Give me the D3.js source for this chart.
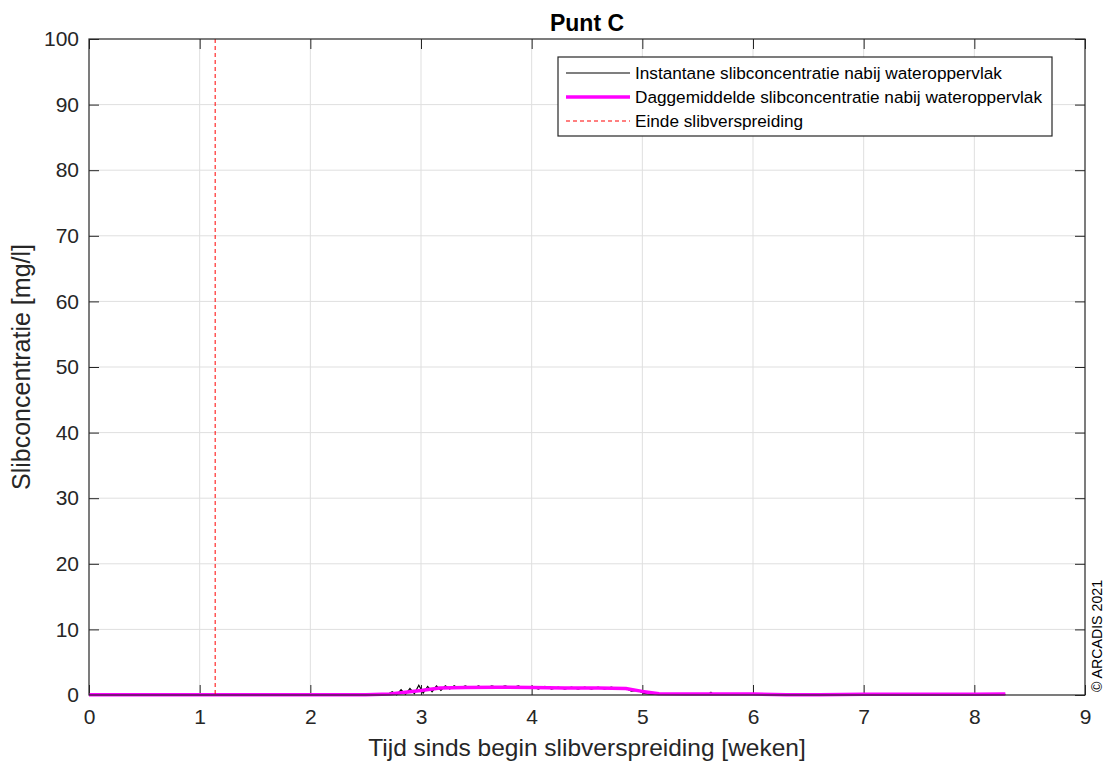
<!DOCTYPE html>
<html>
<head>
<meta charset="utf-8">
<script src="https://cdn.jsdelivr.net/npm/d3@7"></script>
<style>
  body { margin: 0; background: #fff; }
  svg { display: block; }
</style>
</head>
<body>
<svg id="chart" width="1104" height="765"></svg>
<script>
// data
const xTicks = [0, 1, 2, 3, 4, 5, 6, 7, 8, 9];
const yTicks = [0, 10, 20, 30, 40, 50, 60, 70, 80, 90, 100];

const instWeeks = [0, 2.6, 2.70, 2.74, 2.78, 2.82, 2.86, 2.90, 2.94, 2.98, 3.02, 3.06, 3.10, 3.14, 3.18, 3.22, 3.26,
  3.30, 3.34, 3.40, 3.46, 3.52, 3.58, 3.64, 3.70, 3.76, 3.82, 3.88, 3.94, 4.00, 4.06, 4.12, 4.18, 4.24, 4.30,
  4.36, 4.42, 4.48, 4.54, 4.60, 4.66, 4.72, 4.78, 4.84, 4.90, 4.96, 5.02, 5.10, 5.60, 5.62, 5.64, 6.0, 8.28];
const instValues = [0.05, 0.05, 0.1, 0.5, 0.0, 0.8, 0.1, 1.0, 0.2, 1.5, 0.3, 1.3, 0.5, 1.4, 0.7, 1.4, 0.9,
  1.4, 1.0, 1.4, 1.0, 1.4, 1.0, 1.4, 1.1, 1.4, 1.1, 1.4, 1.0, 1.3, 0.9, 1.3, 0.9, 1.2, 0.9,
  1.2, 0.9, 1.2, 0.9, 1.2, 0.9, 1.2, 0.9, 1.1, 0.6, 0.7, 0.2, 0.1, 0.15, 0.4, 0.1, 0.1, 0.1];

const meanWeeks = [0, 2.5, 2.72, 2.9, 3.0, 3.17, 3.4, 3.7, 4.0, 4.3, 4.6, 4.85, 5.0, 5.15, 5.4, 6.0, 6.3, 6.6, 7.0, 7.5, 8.0, 8.28];
const meanValues = [0.05, 0.05, 0.15, 0.5, 0.7, 1.05, 1.15, 1.2, 1.15, 1.05, 1.05, 1.0, 0.55, 0.2, 0.15, 0.15, 0.05, 0.02, 0.1, 0.12, 0.12, 0.15];

const endWeek = 1.14;

const legendItems = [
  {label: "Instantane slibconcentratie nabij wateroppervlak", color: "#000", width: 1.2, dash: null},
  {label: "Daggemiddelde slibconcentratie nabij wateroppervlak", color: "#ff00ff", width: 3.5, dash: null},
  {label: "Einde slibverspreiding", color: "#ff0000", width: 1.2, dash: "4,3"}
];

const svg = d3.select("#chart")
  .attr("font-family", "'Liberation Sans', Arial, sans-serif");
const margin = {top: 39, right: 19, bottom: 70, left: 89};
const width = 1104 - margin.left - margin.right;
const height = 765 - margin.top - margin.bottom;

const x = d3.scaleLinear().domain([0, 9]).range([0, width]);
const y = d3.scaleLinear().domain([0, 100]).range([height, 0]);

const g = svg.append("g").attr("transform", `translate(${margin.left},${margin.top})`);

// grid
g.append("g").selectAll("line")
  .data(xTicks.slice(1, -1))
  .join("line")
  .attr("x1", d => x(d)).attr("x2", d => x(d))
  .attr("y1", 0).attr("y2", height)
  .attr("stroke", "#dfdfdf").attr("stroke-width", 1);
g.append("g").selectAll("line")
  .data(yTicks.slice(1, -1))
  .join("line")
  .attr("y1", d => y(d)).attr("y2", d => y(d))
  .attr("x1", 0).attr("x2", width)
  .attr("stroke", "#dfdfdf").attr("stroke-width", 1);

// axes (ticks inward on all four sides)
const axisStyle = sel => {
  sel.select(".domain").remove();
  sel.selectAll(".tick line").attr("stroke", "#262626");
  sel.selectAll(".tick text").attr("fill", "#262626").attr("font-size", 21);
};
g.append("g").attr("transform", `translate(0,${height})`)
  .call(d3.axisBottom(x).tickValues(xTicks).tickSize(-10).tickPadding(14))
  .call(axisStyle);
g.append("g")
  .call(d3.axisTop(x).tickValues(xTicks).tickSize(-10).tickFormat(""))
  .call(axisStyle);
g.append("g")
  .call(d3.axisLeft(y).tickValues(yTicks).tickSize(-10).tickPadding(10))
  .call(axisStyle);
g.append("g").attr("transform", `translate(${width},0)`)
  .call(d3.axisRight(y).tickValues(yTicks).tickSize(-10).tickFormat(""))
  .call(axisStyle);

// lines
const line = d3.line().x(d => x(d[0])).y(d => y(d[1]));
g.append("path")
  .datum(d3.zip(instWeeks, instValues))
  .attr("d", line)
  .attr("fill", "none").attr("stroke", "#000").attr("stroke-width", 1.2);
g.append("path")
  .datum(d3.zip(meanWeeks, meanValues))
  .attr("d", line)
  .attr("fill", "none").attr("stroke", "#ff00ff").attr("stroke-width", 3.5)
  .attr("stroke-linejoin", "round");
g.append("line")
  .attr("x1", x(endWeek)).attr("x2", x(endWeek))
  .attr("y1", 0).attr("y2", height)
  .attr("stroke", "#ff0000").attr("stroke-width", 1).attr("stroke-dasharray", "4,3");

// frame
g.append("rect")
  .attr("width", width).attr("height", height)
  .attr("fill", "none").attr("stroke", "#262626").attr("stroke-width", 1.2);

// legend
const leg = g.append("g").attr("transform", `translate(${558 - margin.left},${57 - margin.top})`);
leg.append("rect")
  .attr("width", 494).attr("height", 79)
  .attr("fill", "#fff").attr("stroke", "#262626").attr("stroke-width", 1.2);
const rows = leg.selectAll("g.row")
  .data(legendItems)
  .join("g").attr("class", "row")
  .attr("transform", (d, i) => `translate(0,${16 + i * 24})`);
rows.append("line")
  .attr("x1", 8).attr("x2", 72)
  .attr("stroke", d => d.color).attr("stroke-width", d => d.width)
  .attr("stroke-dasharray", d => d.dash);
rows.append("text")
  .attr("x", 77).attr("dy", "0.35em")
  .attr("font-size", 17.2).attr("fill", "#000")
  .text(d => d.label);

// title and labels
svg.append("text")
  .attr("x", margin.left + width / 2).attr("y", 31)
  .attr("text-anchor", "middle").attr("font-size", 23).attr("font-weight", "bold")
  .text("Punt C");
svg.append("text")
  .attr("x", margin.left + width / 2).attr("y", 756)
  .attr("text-anchor", "middle").attr("font-size", 24.5).attr("fill", "#262626")
  .text("Tijd sinds begin slibverspreiding [weken]");
svg.append("text")
  .attr("transform", `translate(30,${margin.top + height / 2}) rotate(-90)`)
  .attr("text-anchor", "middle").attr("font-size", 25).attr("fill", "#262626")
  .text("Slibconcentratie [mg/l]");
svg.append("text")
  .attr("transform", `translate(1102,636) rotate(-90)`)
  .attr("text-anchor", "middle").attr("font-size", 14.2).attr("fill", "#000")
  .text("© ARCADIS 2021");
</script>
</body>
</html>
